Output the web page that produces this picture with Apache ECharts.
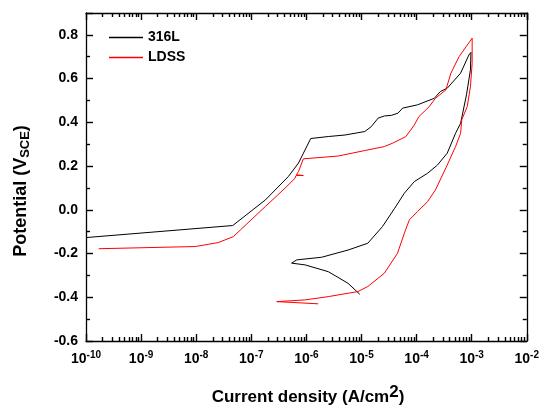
<!DOCTYPE html>
<html>
<head>
<meta charset="utf-8">
<script src="https://cdn.jsdelivr.net/npm/echarts@6/dist/echarts.min.js"></script>
<style>
  html, body { margin: 0; padding: 0; background: #fff; }
  #chart { width: 542px; height: 407px; }
</style>
</head>
<body>
<div id="chart"></div>
<script>
// current density (A/cm2) and potential (V_SCE), forward then reverse scan
const steel316L = [
  [1e-10, -0.127], [4.6e-8, -0.072], [1.8e-7, 0.045], [4.7e-7, 0.152], [7.2e-7, 0.214],
  [1.2e-6, 0.326], [2.5e-6, 0.335], [5e-6, 0.342], [1.15e-5, 0.358], [1.5e-5, 0.38],
  [2.0e-5, 0.419], [2.6e-5, 0.429], [3.5e-5, 0.432], [4.6e-5, 0.442], [5.6e-5, 0.465],
  [1.04e-4, 0.48], [2.1e-4, 0.51], [2.7e-4, 0.541], [3.6e-4, 0.556], [6.3e-4, 0.625],
  [8.9e-4, 0.708], [9.7e-4, 0.72],
  [9.5e-4, 0.64], [8.05e-4, 0.526], [6.3e-4, 0.396], [5.1e-4, 0.35], [3.6e-4, 0.259],
  [2.4e-4, 0.205], [1.58e-4, 0.167], [9.1e-5, 0.129], [6.0e-5, 0.076], [4.0e-5, 0.007],
  [2.4e-5, -0.077], [1.3e-5, -0.153], [5.7e-6, -0.184], [1.89e-6, -0.217], [6.7e-7, -0.229],
  [5.4e-7, -0.244], [9.5e-7, -0.252], [2.5e-6, -0.283], [5.7e-6, -0.336], [9.3e-6, -0.386]
]
const ldss = [
  [1.7e-10, -0.178], [9.6e-9, -0.168], [2.5e-8, -0.15], [4.7e-8, -0.123], [1.8e-7, 0.015],
  [4.1e-7, 0.099], [6.2e-7, 0.144], [6.5e-7, 0.157], [8.8e-7, 0.157], [6.6e-7, 0.16],
  [7.2e-7, 0.175], [8.8e-7, 0.233], [3.8e-6, 0.246], [1.15e-5, 0.271], [2.6e-5, 0.289],
  [3.7e-5, 0.305], [6.4e-5, 0.335], [9.1e-5, 0.388], [1.1e-4, 0.426], [1.7e-4, 0.472],
  [2.2e-4, 0.51], [3.4e-4, 0.548], [4.2e-4, 0.625], [5.9e-4, 0.70], [1.02e-3, 0.785],
  [1.02e-3, 0.67], [9.5e-4, 0.563], [8.3e-4, 0.472], [6.6e-4, 0.411], [6.3e-4, 0.35],
  [5.1e-4, 0.289], [3.6e-4, 0.205], [2.2e-4, 0.091], [1.58e-4, 0.037], [1.04e-4, -0.008],
  [7.4e-5, -0.046], [6.0e-5, -0.107], [4.5e-5, -0.199], [2.6e-5, -0.29], [1.3e-5, -0.351],
  [8.6e-6, -0.374], [2.5e-6, -0.397], [9.5e-7, -0.412], [2.9e-7, -0.42], [1.64e-6, -0.43]
]
const seriesNames = ['316L', 'LDSS']
const xDecades = [-10, -9, -8, -7, -6, -5, -4, -3, -2]
const yMinorTicks = [-0.5, -0.3, -0.1, 0.1, 0.3, 0.5, 0.7]

// log minor ticks 2..9 x 10^n
let xMinorTicks = []
for (let i = 0; i < xDecades.length - 1; i++) {
  for (let m = 2; m <= 9; m++) xMinorTicks.push(m * Math.pow(10, xDecades[i]))
}

const font = 'Liberation Sans, Arial, sans-serif'

function xAx (pos, minor) {
  return {
    type: 'log', logBase: 10, min: 1e-10, max: 1e-2, position: pos,
    axisLine: { show: !minor, onZero: false, lineStyle: { color: '#000', width: 1.3 } },
    axisTick: minor
      ? { show: true, inside: true, length: 4, customValues: xMinorTicks, lineStyle: { color: '#000', width: 1.4 } }
      : { show: true, inside: true, length: 7, lineStyle: { color: '#000', width: 1.4 } },
    splitLine: { show: false },
    axisLabel: { show: false }
  }
}

function yAx (pos, minor) {
  return {
    type: 'value', min: -0.6, max: 0.9, interval: 0.2, position: pos,
    axisLine: { show: !minor, onZero: false, lineStyle: { color: '#000', width: 1.3 } },
    axisTick: minor
      ? { show: true, inside: true, length: 4, customValues: yMinorTicks, lineStyle: { color: '#000', width: 1.4 } }
      : { show: true, inside: true, length: 7, lineStyle: { color: '#000', width: 1.4 } },
    splitLine: { show: false },
    axisLabel: { show: false }
  }
}

let xMain = xAx('bottom', false)
xMain.axisLabel = {
  show: true, margin: 9,
  formatter: v => '{b|10}{s|' + Math.round(Math.log10(v)) + '}',
  rich: {
    b: { fontSize: 14, fontWeight: 'bold', color: '#000', fontFamily: font },
    s: { fontSize: 10, fontWeight: 'bold', color: '#000', fontFamily: font, padding: [0, 0, 8, 0] }
  }
}

let yMain = yAx('left', false)
yMain.axisLabel = {
  show: true, margin: 8, color: '#000', fontSize: 14, fontWeight: 'bold', fontFamily: font,
  formatter: v => (v > 0.85 ? '' : v.toFixed(1))
}

let chart = echarts.init(document.getElementById('chart'))
chart.setOption({
  animation: false,
  backgroundColor: '#fff',
  grid: { left: 86, right: 12, top: 13, bottom: 66 },
  legend: {
    orient: 'vertical', left: 109, top: 30, itemWidth: 34, itemHeight: 1.3, itemGap: 5,
    padding: 0,
    icon: 'rect',
    textStyle: { fontSize: 14, fontWeight: 'bold', color: '#000', fontFamily: font, lineHeight: 15 },
    data: seriesNames
  },
  graphic: [
    {
      type: 'text', x: 308, y: 397,
      style: {
        text: '{a|Current density (A/cm}{p|2}{a|)}',
        align: 'center', verticalAlign: 'middle',
        rich: {
          a: { fontSize: 17, fontWeight: 'bold', fill: '#000', fontFamily: font },
          p: { fontSize: 17, fontWeight: 'bold', fill: '#000', fontFamily: font, padding: [0, 0, 10, 0] }
        }
      }
    },
    {
      type: 'text', x: 21, y: 191, rotation: Math.PI / 2,
      style: {
        text: '{a|Potential (V}{s|SCE}{a|)}',
        align: 'center', verticalAlign: 'middle',
        rich: {
          a: { fontSize: 18, fontWeight: 'bold', fill: '#000', fontFamily: font },
          s: { fontSize: 13, fontWeight: 'bold', fill: '#000', fontFamily: font, padding: [8, 0, 0, 0] }
        }
      }
    }
  ],
  xAxis: [xMain, xAx('bottom', true), xAx('top', false), xAx('top', true)],
  yAxis: [yMain, yAx('left', true), yAx('right', false), yAx('right', true)],
  series: [
    { name: seriesNames[0], type: 'line', data: steel316L, symbol: 'none', color: '#000',
      lineStyle: { width: 1, color: '#000' } },
    { name: seriesNames[1], type: 'line', data: ldss, symbol: 'none', color: '#ff0000',
      lineStyle: { width: 1, color: '#ff0000' } }
  ]
})
</script>
</body>
</html>
